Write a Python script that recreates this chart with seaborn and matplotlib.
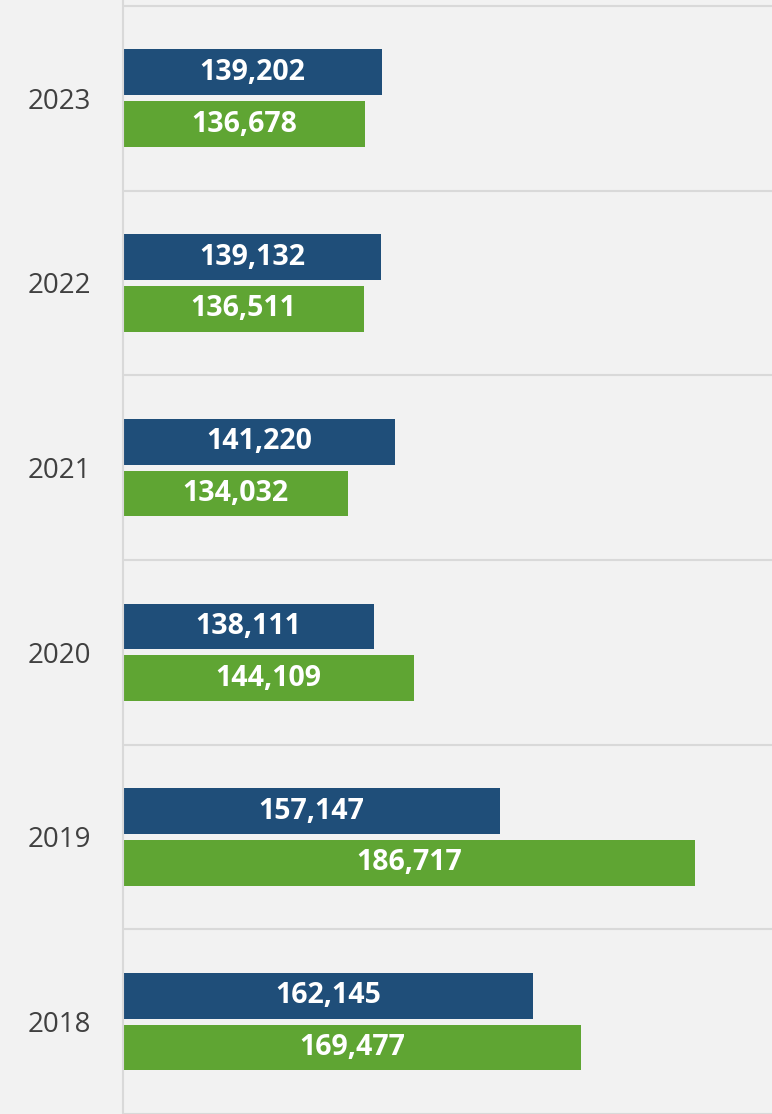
import matplotlib
matplotlib.use("Agg")
import matplotlib.pyplot as plt
import seaborn as sns
import pandas as pd

# Yearly totals for the two series (top bar / bottom bar in each year)
years = ["2023", "2022", "2021", "2020", "2019", "2018"]
series_names = ["Series 1", "Series 2"]
series_1 = [139202, 139132, 141220, 138111, 157147, 162145]
series_2 = [136678, 136511, 134032, 144109, 186717, 169477]

colors = ["#1f4e79", "#5fa533"]
bg = "#f2f2f2"
grid_col = "#d9d9d9"

df = pd.DataFrame({
    "year": years * 2,
    "series": [series_names[0]] * len(years) + [series_names[1]] * len(years),
    "value": series_1 + series_2,
})

sns.set_theme(style="white")
plt.rcParams["font.family"] = ["Open Sans", "DejaVu Sans"]

fig = plt.figure(figsize=(7.72, 11.14), dpi=100, facecolor=bg)
ax = fig.add_axes([123 / 772, 0.0, 1 - 123 / 772, 1.0])
ax.set_facecolor(bg)

sns.barplot(
    data=df, y="year", x="value", hue="series", order=years,
    hue_order=series_names, palette=colors, orient="h",
    width=0.56, gap=0.114, saturation=1, dodge=True,
    legend=False, ax=ax, errorbar=None, linewidth=0,
)

x_min, x_max = 100000, 198350
ax.set_xlim(x_min, x_max)
ax.set_ylim(5.475, -0.532)

# value labels centred on the visible part of each bar
for container in ax.containers:
    for patch in container.patches:
        v = patch.get_width()
        ax.text((x_min + v) / 2, patch.get_y() + patch.get_height() / 2,
                f"{v:,.0f}", ha="center", va="center", color="white",
                fontsize=20.5, fontweight="bold")

# category separators with outward ticks
n = len(years)
ax.set_yticks([i - 0.5 for i in range(n + 1)], minor=True)
ax.grid(True, axis="y", which="minor", color=grid_col, linewidth=1.5)
ax.grid(False, axis="x")
ax.grid(False, axis="y", which="major")
ax.tick_params(axis="y", which="minor", length=8, width=1.5, color=grid_col,
               direction="out")
ax.tick_params(axis="y", which="major", length=0, pad=23,
               labelsize=20, labelcolor="#404040")
ax.set_xticks([])
ax.set_xlabel("")
ax.set_ylabel("")

for side in ["top", "right", "bottom"]:
    ax.spines[side].set_visible(False)
ax.spines["left"].set_color(grid_col)
ax.spines["left"].set_linewidth(1.5)

fig.savefig("out.png", dpi=100, facecolor=bg)
